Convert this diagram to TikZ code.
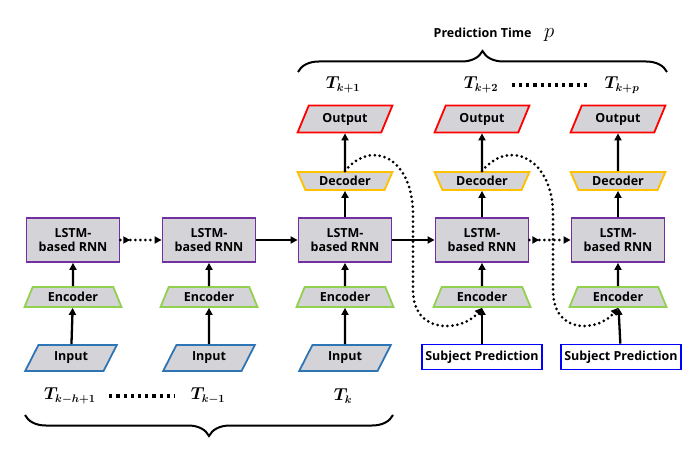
\documentclass[tikz,border=0pt]{standalone}
\usepackage[no-math]{fontspec}
\usepackage{amsmath}
\setmainfont{Open Sans}
\usetikzlibrary{shapes.geometric,arrows.meta,decorations.pathreplacing,decorations.markings}
\definecolor{lstmpurple}{RGB}{112,48,160}
\definecolor{encgreen}{RGB}{146,208,80}
\definecolor{inblue}{RGB}{46,117,182}
\definecolor{decgold}{RGB}{255,192,0}
\definecolor{outred}{RGB}{255,0,0}
\definecolor{subjblue}{RGB}{0,0,255}
\definecolor{boxgray}{RGB}{212,212,216}
\begin{document}
\begin{tikzpicture}[x=1pt,y=-1pt,
  font=\fontsize{12.5}{14}\selectfont\bfseries,
  lstm/.style={draw=lstmpurple, fill=boxgray, line width=1.8pt, minimum width=93pt, minimum height=44pt, align=center, inner sep=0pt},
  enc/.style={trapezium, trapezium left angle=62, trapezium right angle=62, trapezium stretches=true, draw=encgreen, fill=boxgray, line width=1.8pt, minimum width=97pt, minimum height=20pt, inner sep=0pt},
  dec/.style={trapezium, trapezium left angle=118, trapezium right angle=118, trapezium stretches=true, draw=decgold, fill=boxgray, line width=1.8pt, minimum width=95pt, minimum height=18pt, inner sep=0pt},
  inp/.style={trapezium, trapezium left angle=60, trapezium right angle=120, trapezium stretches=true, draw=inblue, fill=boxgray, line width=1.8pt, minimum width=92pt, minimum height=26pt, inner sep=0pt},
  outp/.style={trapezium, trapezium left angle=60, trapezium right angle=120, trapezium stretches=true, draw=outred, fill=boxgray, line width=1.8pt, minimum width=95pt, minimum height=27pt, inner sep=0pt},
  subj/.style={draw=subjblue, fill=white, line width=1.8pt, minimum width=120pt, minimum height=25pt, inner sep=1pt},
  tlabel/.style={font=\fontsize{16}{18}\selectfont\boldmath},
  arr/.style={-{Triangle[length=7pt,width=7pt]}, line width=2.3pt},
  dotarr/.style={-{Triangle[length=7pt,width=7pt]}, line width=3pt, dash pattern=on 0pt off 5pt, line cap=round},
  dotlink/.style={dotarr, postaction={decorate}, decoration={markings, mark=at position 0.24 with {\arrow{Triangle[length=7pt,width=7pt]}}}},
  dotrow/.style={line width=3.2pt, dash pattern=on 3.2pt off 4pt, shorten >=12pt, shorten <=10pt},
  brace/.style={decorate, decoration={brace, amplitude=21pt}, line width=2pt}]
\useasboundingbox (0,0) rectangle (693,449);
% columns at x = 73, 209, 345, 482, 618
\node (in1) at (71,358) [inp] {Input};
\node (in2) at (209,358) [inp] {Input};
\node (in3) at (345,358) [inp] {Input};
\node (sub4) at (482,357) [subj] {Subject Prediction};
\node (sub5) at (621,357) [subj] {Subject Prediction};
\node (enc1) at (73,297) [enc] {Encoder};
\node (enc2) at (209,297) [enc] {Encoder};
\node (enc3) at (345,297) [enc] {Encoder};
\node (enc4) at (482,297) [enc] {Encoder};
\node (enc5) at (618,297) [enc] {Encoder};
\node (rnn1) at (73,240) [lstm] {LSTM-\\based RNN};
\node (rnn2) at (209,240) [lstm] {LSTM-\\based RNN};
\node (rnn3) at (345,240) [lstm] {LSTM-\\based RNN};
\node (rnn4) at (482,240) [lstm] {LSTM-\\based RNN};
\node (rnn5) at (618,240) [lstm] {LSTM-\\based RNN};
\node (dec3) at (345,181) [dec] {Decoder};
\node (dec4) at (482,181) [dec] {Decoder};
\node (dec5) at (618,181) [dec] {Decoder};
\node (out3) at (345,119) [outp] {Output};
\node (out4) at (482,119) [outp] {Output};
\node (out5) at (618,119) [outp] {Output};
% time labels
\node (tk1) at (343,85) [tlabel] {$T_{k+1}$};
\node (tk2) at (481,85) [tlabel] {$T_{k+2}$};
\node (tkp) at (622,85) [tlabel] {$T_{k+p}$};
\node (tkh) at (70,396) [tlabel] {$T_{k-h+1}$};
\node (tkm) at (208,396) [tlabel] {$T_{k-1}$};
\node (tk) at (343,396) [tlabel] {$T_k$};
\draw[dotrow] (tk2.east) -- (tkp.west);
\draw[dotrow] (tkh.east) -- (tkm.west);
% braces
\coordinate (ptl) at (298,72);
\coordinate (ptr) at (667,72);
\coordinate (pbl) at (25,415);
\coordinate (pbr) at (393,415);
\draw[brace] (ptl) -- (ptr);
\draw[brace, decoration={mirror}] (pbl) -- (pbr);
\node (ptime) at (494,35) {Prediction Time\quad{\mdseries\fontsize{20}{20}\selectfont$p$}};
% vertical flow
\draw[arr] (in1) -- (enc1);
\draw[arr] (in2) -- (enc2);
\draw[arr] (in3) -- (enc3);
\draw[arr] (sub4) -- (enc4);
\draw[arr] (sub5) -- (enc5);
\draw[arr] (enc1) -- (rnn1);
\draw[arr] (enc2) -- (rnn2);
\draw[arr] (enc3) -- (rnn3);
\draw[arr] (enc4) -- (rnn4);
\draw[arr] (enc5) -- (rnn5);
\draw[arr] (rnn3) -- (dec3);
\draw[arr] (rnn4) -- (dec4);
\draw[arr] (rnn5) -- (dec5);
\draw[arr] (dec3) -- (out3);
\draw[arr] (dec4) -- (out4);
\draw[arr] (dec5) -- (out5);
% horizontal flow
\draw[dotlink] (rnn1) -- (rnn2);
\draw[arr] (rnn2) -- (rnn3);
\draw[arr] (rnn3) -- (rnn4);
\draw[dotlink] (rnn4) -- (rnn5);
% feedback of the prediction
\draw[dotarr] (dec3.north) .. controls (372,138) and (413,158) .. (413,215) -- (413,290) .. controls (413,335) and (462,332) .. (enc4.south);
\draw[dotarr] (dec4.north) .. controls (509,138) and (553,158) .. (553,215) -- (553,290) .. controls (553,335) and (598,332) .. (enc5.south);
\end{tikzpicture}
\end{document}
